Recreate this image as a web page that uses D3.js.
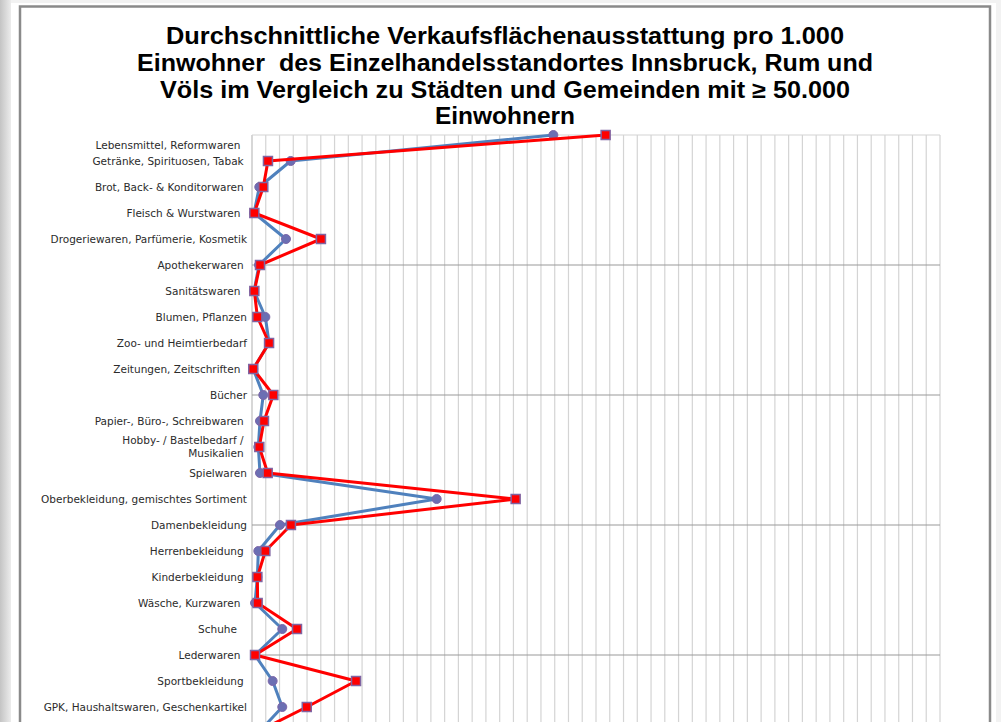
<!DOCTYPE html>
<html>
<head>
<meta charset="utf-8">
<script src="https://cdn.jsdelivr.net/npm/d3@7"></script>
<style>
  html, body { margin: 0; padding: 0; overflow: hidden; background: #fff; }
  svg { display: block; }
  .cat { font-family: "DejaVu Sans", Verdana, sans-serif; font-size: 10.5px; fill: #2b2b2b; white-space: pre; }
  .title { font-family: "Liberation Sans", Arial, sans-serif; font-weight: bold; font-size: 23px; fill: #000; white-space: pre; }
</style>
</head>
<body>
<div id="chart"></div>
<script>
// category labels (trailing blanks as in the source sheet)
var categories = [
  "Lebensmittel, Reformwaren  ",
  "Getränke, Spirituosen, Tabak ",
  "Brot, Back- & Konditorwaren ",
  "Fleisch & Wurstwaren  ",
  "Drogeriewaren, Parfümerie, Kosmetik",
  "Apothekerwaren ",
  "Sanitätswaren  ",
  "Blumen, Pflanzen",
  "Zoo- und Heimtierbedarf",
  "Zeitungen, Zeitschriften  ",
  "Bücher",
  "Papier-, Büro-, Schreibwaren ",
  "Hobby- / Bastelbedarf / \nMusikalien ",
  "Spielwaren",
  "Oberbekleidung, gemischtes Sortiment",
  "Damenbekleidung",
  "Herrenbekleidung ",
  "Kinderbekleidung ",
  "Wäsche, Kurzwaren  ",
  "Schuhe   ",
  "Lederwaren  ",
  "Sportbekleidung ",
  "GPK, Haushaltswaren, Geschenkartikel",
  "Elektrowaren"
];

// Städte und Gemeinden >= 50.000 EW (blue)
var valuesVergleich = [219, 28.1, 5.3, 1.5, 24.7, 5.1, 1.5, 9.7, 12.4, 0.9, 8.2, 5.8,
                       4.6, 5.8, 134.2, 20.3, 4.6, 3.9, 2.2, 22.0, 2.2, 15.0, 22.0, 4.4];
// Innsbruck, Rum und Völs (red)
var valuesInnsbruck = [257, 11.6, 8.2, 1.7, 50.1, 5.8, 1.7, 3.9, 12.4, 0.9, 15.5, 8.7,
                       5.3, 11.4, 191.6, 28.3, 9.7, 3.9, 4.1, 32.7, 2.2, 75.6, 39.8, 2.2];

var titleLines = [
  "Durchschnittliche Verkaufsflächenausstattung pro 1.000",
  "Einwohner  des Einzelhandelsstandortes Innsbruck, Rum und",
  "Völs im Vergleich zu Städten und Gemeinden mit ≥ 50.000",
  "Einwohnern"
];
var titleWidths = [678, 736, 690, 140];

var width = 1001, height = 722;

var svg = d3.select("#chart").append("svg")
    .attr("width", width)
    .attr("height", height);

// page background / frame
var bg = svg.append("defs").append("linearGradient").attr("id", "side");
bg.append("stop").attr("offset", "0%").attr("stop-color", "#c4c4c4");
bg.append("stop").attr("offset", "100%").attr("stop-color", "#ececec");
svg.append("rect").attr("width", width).attr("height", height).attr("fill", "#f2f2f2");
svg.append("rect").attr("x", 0).attr("y", 0).attr("width", 11).attr("height", height).attr("fill", "url(#side)");
svg.append("rect").attr("x", 11).attr("y", 3).attr("width", 985).attr("height", height).attr("fill", "#fff");
svg.append("path")
    .attr("d", "M20,760V6.5H990V760")
    .attr("fill", "none")
    .attr("stroke", "#8a8a8a")
    .attr("stroke-width", 2.5);

// scales
var x = d3.scaleLinear().domain([0, 500]).range([252, 940]);
var y = d3.scaleLinear().domain([0, categories.length - 1]).range([135, 135 + 26 * (categories.length - 1)]);
var yBottom = 760;

// vertical grid
svg.append("g").selectAll("line")
    .data(d3.range(0, 501, 10))
    .join("line")
      .attr("x1", function(d) { return x(d); })
      .attr("x2", function(d) { return x(d); })
      .attr("y1", y(0))
      .attr("y2", yBottom)
      .attr("stroke", function(d) { return d === 0 ? "#bdbdbd" : "#d4d4d4"; })
      .attr("stroke-width", 1.2);

// horizontal grid every 5 categories
svg.append("g").selectAll("line")
    .data([0, 5, 10, 15, 20])
    .join("line")
      .attr("x1", x(0))
      .attr("x2", x(500))
      .attr("y1", function(d) { return y(d); })
      .attr("y2", function(d) { return y(d); })
      .attr("stroke", function(d) { return d === 0 ? "#d4d4d4" : "#9a9a9a"; })
      .attr("stroke-width", 1.2);

// category labels (only those inside the visible part of the sheet)
var labels = svg.append("g").selectAll("text")
    .data(categories.filter(function(d, i) { return y(i) < height - 8; }))
    .join("text")
      .attr("class", "cat")
      .attr("text-anchor", "end")
      .attr("x", 247)
      .attr("y", function(d, i) { return y(i) + (i === 0 ? 10 : 0); });

labels.each(function(d) {
  var parts = d.split("\n");
  var t = d3.select(this);
  parts.forEach(function(p, k) {
    t.append("tspan")
      .attr("x", 247)
      .attr("dy", k === 0 ? (0.35 - (parts.length - 1) * 0.6) + "em" : "1.2em")
      .text(p);
  });
});

// series
var line = d3.line()
    .x(function(d) { return x(d); })
    .y(function(d, i) { return y(i); });

function drawSeries(values, color, marker) {
  var g = svg.append("g");
  g.append("path")
    .datum(values)
    .attr("d", line)
    .attr("fill", "none")
    .attr("stroke", color)
    .attr("stroke-width", 3)
    .attr("stroke-linejoin", "round");
  if (marker === "circle") {
    g.selectAll("circle")
      .data(values)
      .join("circle")
        .attr("cx", function(d) { return x(d); })
        .attr("cy", function(d, i) { return y(i); })
        .attr("r", 4.5)
        .attr("fill", "#6b6fb3")
        .attr("stroke", "#7d66a8")
        .attr("stroke-width", 1);
  } else {
    g.selectAll("rect")
      .data(values)
      .join("rect")
        .attr("x", function(d) { return x(d) - 4.5; })
        .attr("y", function(d, i) { return y(i) - 4.5; })
        .attr("width", 9)
        .attr("height", 9)
        .attr("fill", "#ff0000")
        .attr("stroke", "#8064a2")
        .attr("stroke-width", 1.5);
  }
}

drawSeries(valuesVergleich, "#4f81bd", "circle");
drawSeries(valuesInnsbruck, "#ff0000", "square");

// title
svg.append("g").selectAll("text")
    .data(titleLines)
    .join("text")
      .attr("class", "title")
      .attr("x", 505)
      .attr("y", function(d, i) { return 44 + i * 26.8; })
      .attr("text-anchor", "middle")
      .attr("textLength", function(d, i) { return titleWidths[i]; })
      .attr("lengthAdjust", "spacingAndGlyphs")
      .text(function(d) { return d; });
</script>
</body>
</html>
